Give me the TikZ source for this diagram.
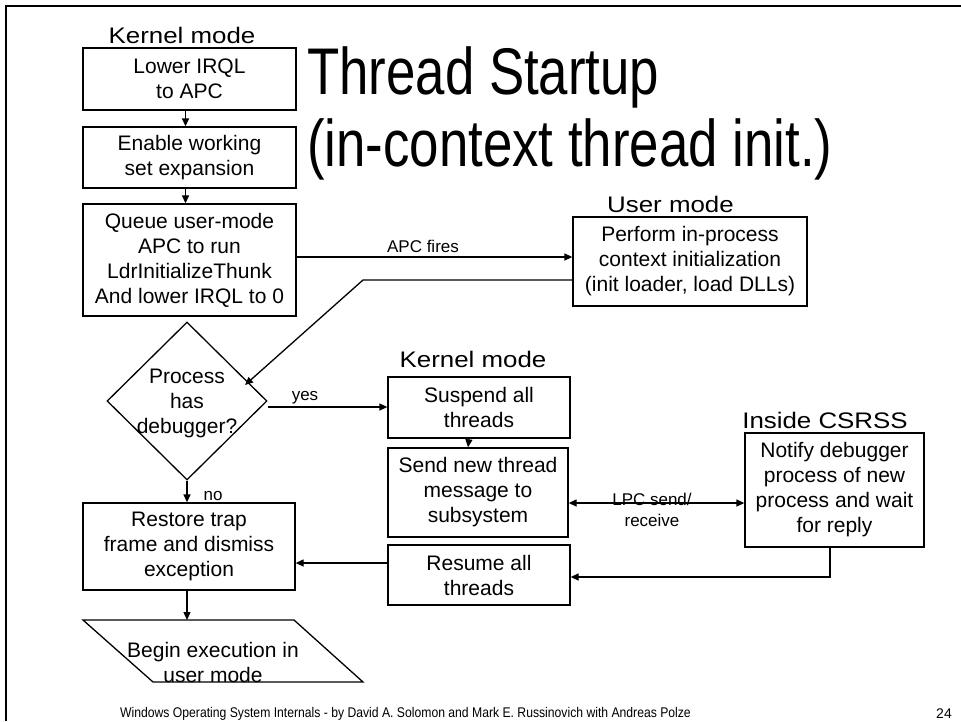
\documentclass[tikz,border=0pt]{standalone}
\usepackage{fontspec}
\setmainfont{Liberation Sans}
\usetikzlibrary{arrows.meta,shapes.geometric}
\newcommand\bxf{\fontsize{21}{25}\selectfont}
\newcommand\lblf{\fontsize{17}{21}\selectfont}
\newcommand\modef[1]{\scalebox{1.15}[1]{\fontsize{22.5}{26}\selectfont #1}}
\begin{document}
\begin{tikzpicture}[x=1pt,y=-1pt,
  box/.style={draw, line width=1.3pt, inner sep=0pt, align=center, font=\bxf},
  arr/.style={line width=1.3pt, -{Triangle[length=8pt,width=7pt]}},
  arrb/.style={line width=1.3pt, {Triangle[length=8pt,width=7pt]}-{Triangle[length=8pt,width=7pt]}},
  lbl/.style={font=\lblf, inner sep=0pt, align=center},
  modelbl/.style={anchor=base, inner sep=0pt}]
\useasboundingbox (0,0) rectangle (961,721);
\fill[white] (0,0) rectangle (961,721);
\draw[line width=2pt] (6,721) -- (6,6) -- (961,6);

% title
\node[anchor=base west, inner sep=0pt] (t1) at (307,94) {\scalebox{0.8}[1]{\fontsize{66}{72}\selectfont Thread Startup}};
\node[anchor=base west, inner sep=0pt] (t2) at (307,166) {\scalebox{0.8}[1]{\fontsize{66}{72}\selectfont (in-context thread init.)}};

% mode labels
\node[modelbl] (km1) at (182,43) {\modef{Kernel mode}};
\node[modelbl] (um) at (670.5,212) {\modef{User mode}};
\node[modelbl] (km2) at (473,367) {\modef{Kernel mode}};
\node[modelbl] (cs) at (825,428) {\modef{Inside CSRSS}};

% boxes
\node[box, minimum width=213pt, minimum height=62pt] (A) at (189.5,79) {Lower IRQL\\to APC};
\node[box, minimum width=213pt, minimum height=61pt] (B) at (189.5,157.5) {Enable working\\set expansion};
\node[box, minimum width=213pt, minimum height=112pt] (C) at (189.5,260) {Queue user-mode\\APC to run\\LdrInitializeThunk\\And lower IRQL to 0};
\node[box, minimum width=234pt, minimum height=89pt] (D) at (690,261.5) {Perform in-process\\context initialization\\(init loader, load DLLs)};
\node[draw, diamond, line width=1.3pt, inner sep=0pt, minimum width=160pt, minimum height=158pt] (dia) at (187,401) {};
\node[font=\bxf, align=center, inner sep=0pt] (diat) at (187,403) {Process\\has\\debugger?};
\node[box, minimum width=182pt, minimum height=61pt] (E) at (479,407.5) {Suspend all\\threads};
\node[box, minimum width=180pt, minimum height=89pt] (F) at (478,492.5) {Send new thread\\message to\\subsystem};
\node[box, minimum width=182pt, minimum height=60pt] (G) at (479,575) {Resume all\\threads};
\node[box, minimum width=179pt, minimum height=114pt] (H) at (834.5,490) {Notify debugger\\process of new\\process and wait\\for reply};
\node[box, minimum width=212pt, minimum height=87pt] (I) at (189,546.5) {Restore trap\\frame and dismiss\\exception};
\draw[line width=1.3pt] (83,620) -- (294,620) -- (363,682) -- (153,682) -- cycle;
\node[font=\bxf, align=center, inner sep=0pt] (J) at (213,662) {Begin execution in\\user mode};
\coordinate (jt) at (187,620);
\coordinate (dtip) at (245,385);
\coordinate (bend) at (363,280);

% connectors
\draw[arr] ([xshift=-4pt]A.south) -- ([xshift=-4pt]B.north);
\draw[arr] ([xshift=-4pt]B.south) -- ([xshift=-4pt]C.north);
\draw[arr] ([yshift=3pt]C.east) -- ([yshift=3pt]C.east -| D.west);
\node[lbl] (apcf) at (423,246) {APC fires};
\draw[arr] ([yshift=-18.5pt]D.west) -- (bend) -- (dtip);
\draw[arr] ([yshift=-6pt]dia.east) -- ([yshift=-6pt]dia.east -| E.west);
\node[lbl] (yes) at (305,398) {yes};
\draw[arr] (dia.south) -- (dia.south |- I.north);
\node[lbl] (no) at (213,496) {no};
\draw[arr] ([xshift=-10pt]E.south) -- ([xshift=-10pt]F.north);
\draw[arrb] ([yshift=-10.5pt]F.east) -- ([yshift=-10.5pt]F.east -| H.west);
\node[lbl] (lpc) at (652,510) {LPC send/\\receive};
\draw[arr] ([xshift=-4.5pt]H.south) |- ([yshift=-2pt]G.east);
\draw[arr] ([yshift=12pt]G.west) -- ([yshift=12pt]G.west -| I.east);
\draw[arr] (I.south -| jt) -- (jt);

% footer
\node[anchor=base, inner sep=0pt] (foot) at (405.5,717) {\scalebox{0.87}[1]{\fontsize{14}{16}\selectfont Windows Operating System Internals - by David A. Solomon and Mark E. Russinovich with Andreas Polze}};
\node[anchor=base, inner sep=0pt] (pg) at (944,718) {\fontsize{14}{16}\selectfont 24};
\end{tikzpicture}
\end{document}
